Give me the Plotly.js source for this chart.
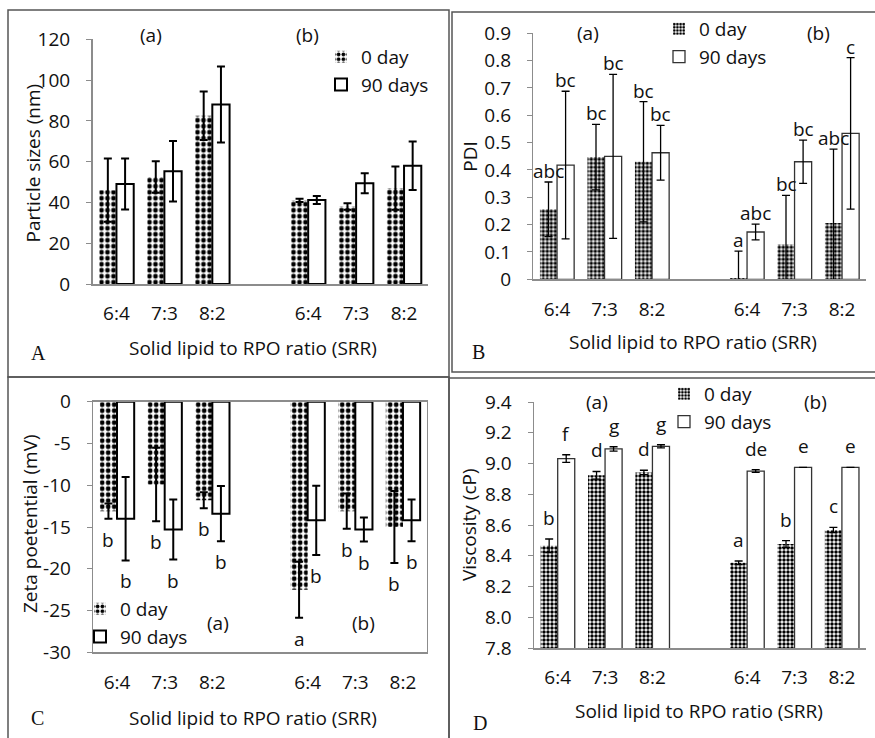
<!DOCTYPE html>
<html><head><meta charset="utf-8">
<script src="https://cdn.plot.ly/plotly-3.0.1.min.js"></script>
<style>html,body{margin:0;padding:0;background:#fff}</style>
</head><body><div id="chart" style="width:875px;height:738px"></div>
<script>
// ---------- data ----------
const categories = ['6:4','7:3','8:2','6:4','7:3','8:2'];
const positions = [0,1,2,4,5,6];
const seriesNames = ['0 day','90 days'];

// A: particle size (nm)
const sizeDay0 = [46, 52.5, 82.5, 41, 38, 47];
const sizeDay0Err = [15.5, 7.7, 11.9, 0.8, 1.6, 10.6];
const sizeDay90 = [49, 55.3, 88, 41.2, 49.4, 58];
const sizeDay90Err = [12.5, 14.8, 18.6, 2, 4.9, 11.9];
const sizeTicks = [0, 20, 40, 60, 80, 100, 120];

// B: PDI
const pdiDay0 = [0.256, 0.447, 0.43, 0.005, 0.127, 0.206];
const pdiDay0Err = [0.10, 0.12, 0.22, 0.098, 0.18, 0.27];
const pdiDay90 = [0.418, 0.45, 0.463, 0.173, 0.43, 0.534];
const pdiDay90Err = [0.27, 0.30, 0.10, 0.029, 0.079, 0.277];
const pdiDay0Letters = ['abc','bc','bc','a','bc','abc'];
const pdiDay90Letters = ['bc','bc','bc','abc','bc','c'];
const pdiTicks = [0, 0.1, 0.2, 0.3, 0.4, 0.5, 0.6, 0.7, 0.8, 0.9];
const pdiTickText = ['0','0.1','0.2','0.3','0.4','0.5','0.6','0.7','0.8','0.9'];

// C: zeta potential (mV)
const zetaDay0 = [-13.1, -9.9, -11.8, -22.5, -13.1, -15.0];
const zetaDay0Err = [0.9, 4.4, 0.95, 3.35, 2.1, 4.3];
const zetaDay90 = [-14.0, -15.3, -13.4, -14.2, -15.3, -14.2];
const zetaDay90Err = [5.0, 3.6, 3.3, 4.15, 1.45, 2.5];
const zetaDay0Letters = ['b','b','b','a','b','b'];
const zetaDay90Letters = ['b','b','b','b','b','b'];
const zetaTicks = [0, -5, -10, -15, -20, -25, -30];
const zetaTickText = ['0', '-5', '-10', '-15', '-20', '-25', '-30'];

// D: viscosity (cP)
const viscDay0 = [8.465, 8.923, 8.942, 8.354, 8.476, 8.567];
const viscDay0Err = [0.044, 0.025, 0.014, 0.012, 0.022, 0.017];
const viscDay90 = [9.032, 9.095, 9.112, 8.951, 8.975, 8.975];
const viscDay90Err = [0.025, 0.014, 0.01, 0.009, 0, 0];
const viscDay0Letters = ['b','d','d','a','b','c'];
const viscDay90Letters = ['f','g','g','de','e','e'];
const viscTicks = [7.8, 8.0, 8.2, 8.4, 8.6, 8.8, 9.0, 9.2, 9.4];
const viscTickText = ['7.8','8.0','8.2','8.4','8.6','8.8','9.0','9.2','9.4'];

// ---------- layout helpers ----------
const W = 875, H = 738;
const fx = p => p / W;
const fy = p => 1 - p / H;
const FONT = 'Open Sans, Noto Sans, sans-serif';
const FS = 19;
const BARGAP = 0.28;
const OFF = (1 - BARGAP) / 4;

const panels = [
  {ax:'', leg:'legend', d0:sizeDay0, e0:sizeDay0Err, d90:sizeDay90, e90:sizeDay90Err, heavy:true},
  {ax:'2', leg:'legend2', d0:pdiDay0, e0:pdiDay0Err, d90:pdiDay90, e90:pdiDay90Err, heavy:false},
  {ax:'3', leg:'legend3', d0:zetaDay0, e0:zetaDay0Err, d90:zetaDay90, e90:zetaDay90Err, heavy:true},
  {ax:'4', leg:'legend4', d0:viscDay0, e0:viscDay0Err, d90:viscDay90, e90:viscDay90Err, heavy:false}
];

const traces = [];
panels.forEach(p => {
  const lw = p.heavy ? 2 : 1.3;
  traces.push({
    type:'bar', name:seriesNames[0], x:positions, y:p.d0,
    xaxis:'x'+p.ax, yaxis:'y'+p.ax, legend:p.leg,
    marker:{color:'#fff', line:{width:0},
      pattern:{shape:'.', fgcolor:'#000', bgcolor:'#fff', size:p.heavy?6:4, solidity:p.heavy?0.5:0.6}},
    error_y:{type:'data', array:p.e0, visible:true, color:'#000', thickness:lw, width:4},
    hoverinfo:'skip'
  });
  traces.push({
    type:'bar', name:seriesNames[1], x:positions, y:p.d90,
    xaxis:'x'+p.ax, yaxis:'y'+p.ax, legend:p.leg,
    marker:{color:'#fff', line:{width:lw, color:p.heavy?'#000':'#333'}},
    error_y:{type:'data', array:p.e90, visible:true, color:'#000', thickness:lw, width:4},
    hoverinfo:'skip'
  });
});

const axLine = '#8c8c8c';
function xa(x0, x1, anchor, extra) {
  return Object.assign({
    domain:[fx(x0), fx(x1)], anchor:anchor, range:[-0.5, 6.5],
    tickmode:'array', tickvals:positions, ticktext:categories,
    showline:true, linecolor:axLine, linewidth:1.5, ticks:'', showgrid:false, zeroline:false,
    tickfont:{family:FONT, size:FS, color:'#111'}, ticklabelstandoff:12, fixedrange:true
  }, extra || {});
}
function ya(y0, y1, anchor, range, vals, text, extra) {
  return Object.assign({
    domain:[fy(y1), fy(y0)], anchor:anchor, range:range,
    tickmode:'array', tickvals:vals, ticktext:text,
    showline:true, linecolor:axLine, linewidth:1.5, ticks:'outside', ticklen:5, tickcolor:axLine,
    showgrid:false, zeroline:false,
    tickfont:{family:FONT, size:FS, color:'#111'}, ticklabelstandoff:12, fixedrange:true
  }, extra || {});
}

function ann(text, x, y, extra) {
  return Object.assign({text:text, x:fx(x), y:fy(y), xref:'paper', yref:'paper',
    showarrow:false, xanchor:'center', yanchor:'middle',
    font:{family:FONT, size:FS, color:'#111'}}, extra || {});
}
const serif = {family:'Liberation Serif, Times New Roman, serif', size:20, color:'#111'};

const annotations = [
  // panel letters
  ann('A', 38.5, 352.5, {font:serif}), ann('B', 478, 352, {font:serif}),
  ann('C', 37, 718, {font:serif}), ann('D', 480, 723, {font:serif}),
  // group labels
  ann('(a)', 151, 35), ann('(b)', 307.5, 35),
  ann('(a)', 588, 33), ann('(b)', 818, 33),
  ann('(a)', 218, 623), ann('(b)', 363, 623),
  ann('(a)', 597, 401.5), ann('(b)', 815.5, 401.5),
  // axis titles
  ann('Solid lipid to RPO ratio (SRR)', 253, 348),
  ann('Solid lipid to RPO ratio (SRR)', 692.5, 341.5),
  ann('Solid lipid to RPO ratio (SRR)', 253, 718),
  ann('Solid lipid to RPO ratio (SRR)', 699, 711),
  ann('Particle sizes (nm)', 32, 163.5, {textangle:-90}),
  ann('PDI', 470, 156.7, {textangle:-90}),
  ann('Zeta poetential (mV)', 30, 524, {textangle:-90}),
  ann('Viscosity (cP)', 469, 525, {textangle:-90})
];

function letters(ax, vals, errs, labs, side, above, shift) {
  labs.forEach((t, i) => {
    annotations.push({
      text:t, xref:'x'+ax, yref:'y'+ax,
      x:positions[i] + side * OFF,
      y: above ? vals[i] + errs[i] : vals[i] - errs[i],
      showarrow:false, xanchor:'center', yanchor: above ? 'bottom' : 'top', yshift:shift,
      font:{family:FONT, size:FS, color:'#111'}
    });
  });
}
letters('2', pdiDay0, pdiDay0Err, pdiDay0Letters, -1, true, -4);
letters('2', pdiDay90, pdiDay90Err, pdiDay90Letters, 1, true, -4);
letters('3', zetaDay0, zetaDay0Err, zetaDay0Letters, -1, false, -6);
letters('3', zetaDay90, zetaDay90Err, zetaDay90Letters, 1, false, -6);
letters('4', viscDay0, viscDay0Err, viscDay0Letters, -1, true, 6);
letters('4', viscDay90, viscDay90Err, viscDay90Letters, 1, true, 6);

const border = '#555';
const shapes = [
  {type:'rect', xref:'paper', yref:'paper', x0:fx(8), x1:fx(449), y0:fy(377), y1:fy(10), line:{color:border, width:1.5}},
  {type:'rect', xref:'paper', yref:'paper', x0:fx(452), x1:fx(880), y0:fy(372), y1:fy(12), line:{color:border, width:1.5}},
  {type:'rect', xref:'paper', yref:'paper', x0:fx(8), x1:fx(449), y0:fy(742), y1:fy(377), line:{color:border, width:1.5}},
  {type:'rect', xref:'paper', yref:'paper', x0:fx(449), x1:fx(880), y0:fy(742), y1:fy(378), line:{color:border, width:1.5}}
];

function leg(x, y) {
  return {x:fx(x), y:fy(y), xanchor:'left', yanchor:'top', bgcolor:'rgba(0,0,0,0)',
    font:{family:FONT, size:FS, color:'#111'}, tracegroupgap:0, itemclick:false, itemdoubleclick:false};
}

const layout = {
  width:W, height:H, margin:{l:0, r:0, t:0, b:0},
  paper_bgcolor:'#fff', plot_bgcolor:'#fff',
  barmode:'group', bargap:BARGAP, bargroupgap:0,
  font:{family:FONT, size:FS, color:'#111'},
  xaxis: xa(92.5, 428, 'y'),
  yaxis: ya(39.3, 284, 'x', [0, 120], sizeTicks, sizeTicks.map(String)),
  xaxis2: xa(533.3, 865.8, 'y2'),
  yaxis2: ya(33.3, 279.3, 'x2', [0, 0.9], pdiTicks, pdiTickText),
  xaxis3: xa(93.2, 426.8, 'y3', {mirror:true}),
  yaxis3: ya(401.7, 652.3, 'x3', [-30, 0], zetaTicks, zetaTickText, {mirror:true}),
  xaxis4: xa(534, 865.6, 'y4'),
  yaxis4: ya(402, 648, 'x4', [7.8, 9.4], viscTicks, viscTickText),
  legend: leg(321, 38),
  legend2: leg(659, 10),
  legend3: leg(80, 590),
  legend4: leg(664, 375),
  annotations: annotations,
  shapes: shapes
};

Plotly.newPlot('chart', traces, layout, {displayModeBar:false, staticPlot:true});
</script>
</body></html>
